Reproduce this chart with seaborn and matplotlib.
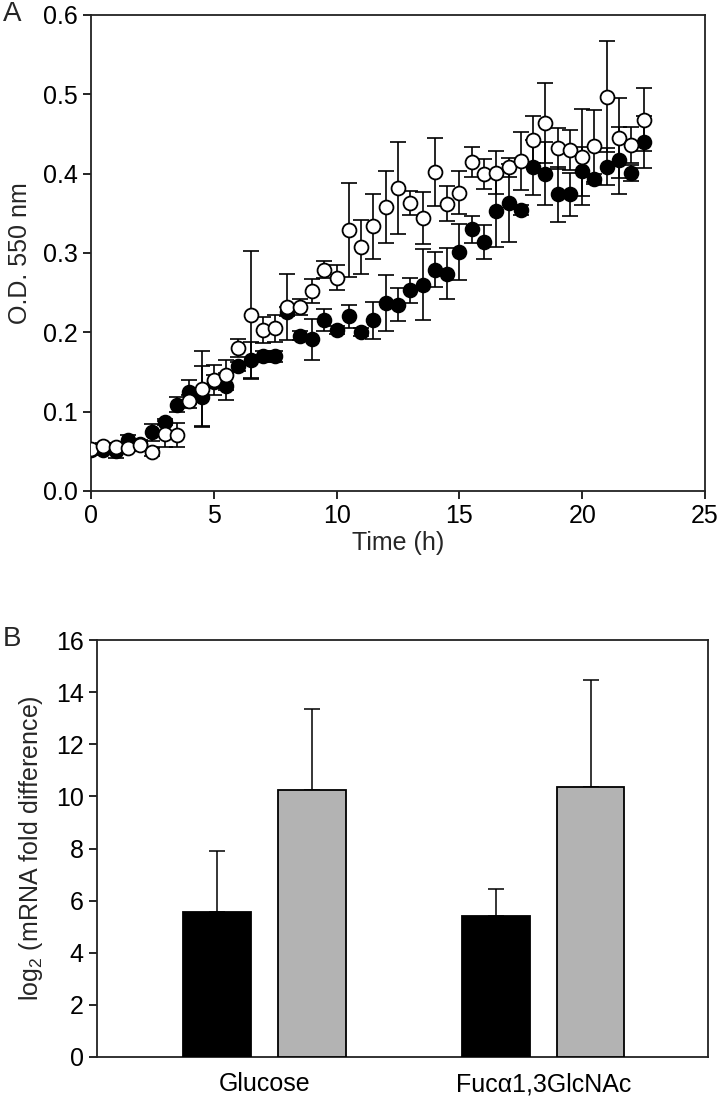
import numpy as np
import pandas as pd
import matplotlib
matplotlib.use('Agg')
import matplotlib.pyplot as plt
import seaborn as sns

# --- panel A: growth curves (O.D. 550 nm), mean and SD every 0.5 h ---
time_h = [0.0, 0.5, 1.0, 1.5, 2.0, 2.5, 3.0, 3.5, 4.0, 4.5,
          5.0, 5.5, 6.0, 6.5, 7.0, 7.5, 8.0, 8.5, 9.0, 9.5,
          10.0, 10.5, 11.0, 11.5, 12.0, 12.5, 13.0, 13.5, 14.0, 14.5,
          15.0, 15.5, 16.0, 16.5, 17.0, 17.5, 18.0, 18.5, 19.0, 19.5,
          20.0, 20.5, 21.0, 21.5, 22.0, 22.5]

od_open = [0.053, 0.057, 0.056, 0.054, 0.058, 0.049, 0.072, 0.071, 0.113, 0.129,
           0.140, 0.146, 0.180, 0.222, 0.203, 0.205, 0.232, 0.232, 0.252, 0.279,
           0.269, 0.329, 0.308, 0.334, 0.358, 0.382, 0.363, 0.344, 0.402, 0.362,
           0.376, 0.415, 0.400, 0.401, 0.408, 0.416, 0.443, 0.464, 0.432, 0.430,
           0.421, 0.435, 0.497, 0.445, 0.436, 0.468]
od_open_err = [0.005, 0.004, 0.005, 0.004, 0.004, 0.005, 0.016, 0.015, 0.008, 0.047,
               0.019, 0.019, 0.011, 0.081, 0.016, 0.017, 0.042, 0.010, 0.015, 0.011,
               0.016, 0.059, 0.034, 0.041, 0.045, 0.058, 0.015, 0.033, 0.043, 0.022,
               0.027, 0.019, 0.019, 0.027, 0.012, 0.036, 0.030, 0.050, 0.026, 0.025,
               0.060, 0.045, 0.070, 0.050, 0.023, 0.040]

od_filled = [0.052, 0.052, 0.050, 0.064, 0.059, 0.074, 0.087, 0.109, 0.125, 0.119,
             0.138, 0.132, 0.157, 0.165, 0.170, 0.170, 0.226, 0.196, 0.191, 0.216,
             0.203, 0.220, 0.201, 0.215, 0.237, 0.235, 0.253, 0.260, 0.279, 0.274,
             0.301, 0.330, 0.314, 0.353, 0.363, 0.354, 0.408, 0.400, 0.374, 0.374,
             0.403, 0.393, 0.409, 0.417, 0.401, 0.440]
od_filled_err = [0.006, 0.005, 0.009, 0.007, 0.005, 0.011, 0.004, 0.010, 0.015, 0.038,
                 0.008, 0.017, 0.006, 0.023, 0.007, 0.007, 0.006, 0.006, 0.026, 0.014,
                 0.005, 0.015, 0.005, 0.023, 0.035, 0.021, 0.016, 0.045, 0.022, 0.032,
                 0.035, 0.017, 0.021, 0.045, 0.049, 0.006, 0.035, 0.040, 0.035, 0.027,
                 0.031, 0.006, 0.023, 0.042, 0.010, 0.033]

# --- panel B: log2 mRNA fold difference ---
conditions = ['Glucose', 'Fucα1,3GlcNAc']
fold_black = [5.58, 5.42]
fold_black_err = [2.34, 1.03]
fold_grey = [10.25, 10.35]
fold_grey_err = [3.10, 4.10]

sns.set_style('ticks')
plt.rcParams['font.family'] = ['Liberation Sans', 'DejaVu Sans']
plt.rcParams['mathtext.fontset'] = 'custom'
plt.rcParams['mathtext.rm'] = 'Liberation Sans'
plt.rcParams['mathtext.default'] = 'regular'

W, H = 720, 1099
fig = plt.figure(figsize=(W / 100, H / 100), dpi=100)
axA = fig.add_axes([91 / W, 1 - 491 / H, (705 - 91) / W, (491 - 15) / H])
axB = fig.add_axes([97 / W, 1 - 1057 / H, (708 - 97) / W, (1057 - 640) / H])

fs = 18

# panel A
df_a = pd.DataFrame({'time': time_h, 'open': od_open, 'filled': od_filled})
axA.errorbar(time_h, od_filled, yerr=od_filled_err, fmt='none', ecolor='black',
             elinewidth=1.2, capsize=5.8, capthick=1.2, zorder=2)
sns.scatterplot(data=df_a, x='time', y='filled', ax=axA, color='black',
                edgecolor='black', s=100, linewidth=1.2, zorder=3)
axA.errorbar(time_h, od_open, yerr=od_open_err, fmt='none', ecolor='black',
             elinewidth=1.2, capsize=5.8, capthick=1.2, zorder=4)
sns.scatterplot(data=df_a, x='time', y='open', ax=axA, color='white',
                edgecolor='black', s=100, linewidth=1.3, zorder=5)

axA.set_xlim(0, 25)
axA.set_ylim(0, 0.6)
axA.set_xticks([0, 5, 10, 15, 20, 25])
axA.set_yticks(np.arange(0, 0.61, 0.1))
axA.yaxis.set_major_formatter(matplotlib.ticker.FormatStrFormatter('%.1f'))
axA.set_xlabel('Time (h)', fontsize=fs, labelpad=2)
axA.set_ylabel('O.D. 550 nm', fontsize=fs, labelpad=8)

# panel B
df_b = pd.DataFrame({
    'condition': conditions * 2,
    'value': fold_black + fold_grey,
    'group': ['black'] * 2 + ['grey'] * 2,
})
sns.barplot(data=df_b, x='condition', y='value', hue='group', ax=axB,
            palette={'black': 'black', 'grey': '#b3b3b3'}, width=0.68, gap=0.29,
            edgecolor='black', linewidth=1.3, legend=False, errorbar=None,
            zorder=3)
for cont, errs in zip(axB.containers, [fold_black_err, fold_grey_err]):
    xs = [p.get_x() + p.get_width() / 2 for p in cont]
    hs = [p.get_height() for p in cont]
    axB.errorbar(xs, hs, yerr=[np.zeros(len(errs)), errs], fmt='none',
                 ecolor='black', elinewidth=1.1, capsize=5.5, capthick=1.1, zorder=2)

axB.set_xlim(-0.6, 1.59)
axB.set_ylim(0, 16)
axB.set_yticks(range(0, 17, 2))
axB.tick_params(axis='x', length=0, pad=11)
axB.set_xlabel('')
axB.set_ylabel('log$_2$ (mRNA fold difference)', fontsize=fs, labelpad=8)

for ax in (axA, axB):
    for sp in ax.spines.values():
        sp.set_visible(True)
        sp.set_color('#222222')
        sp.set_linewidth(1.3)
    ax.tick_params(axis='both', labelsize=fs, width=1.2, colors='black')
    ax.tick_params(axis='y', direction='out', length=6)
axA.tick_params(axis='x', direction='out', length=6)

fig.text(3 / W, 1 - 1 / H, 'A', fontsize=20, va='top', ha='left')
fig.text(3 / W, 1 - 626 / H, 'B', fontsize=20, va='top', ha='left')

fig.savefig('out.png', dpi=100)
